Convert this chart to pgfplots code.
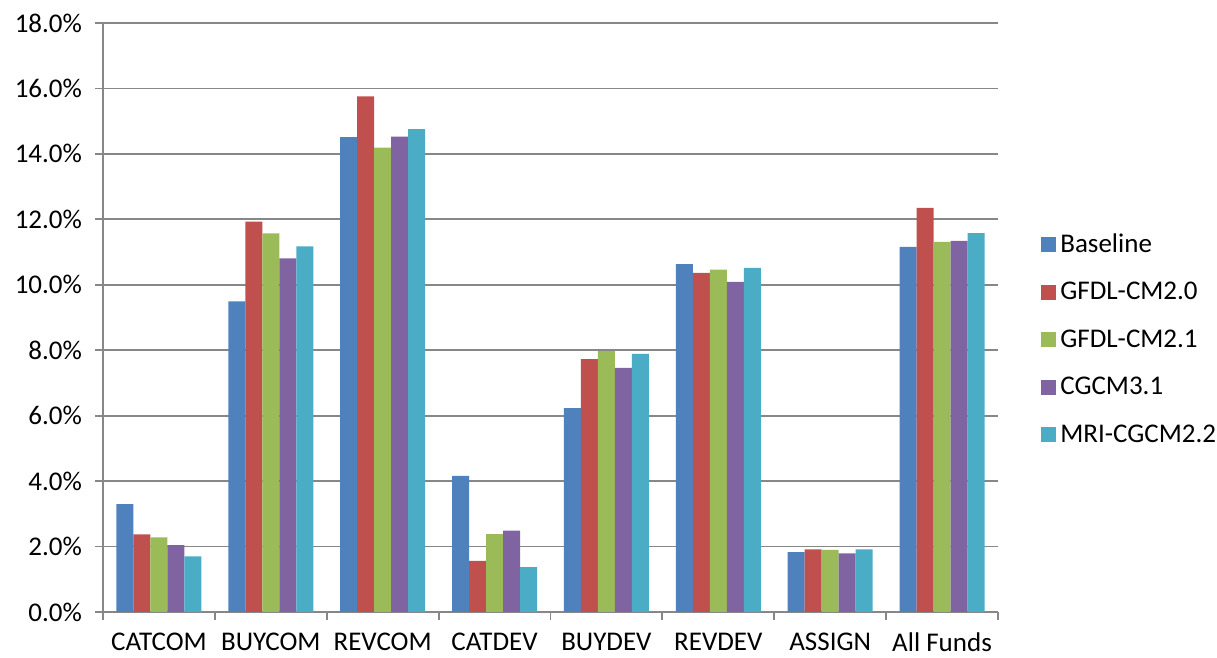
\documentclass[border=0pt]{standalone}
\usepackage{pgfplots}
\pgfplotsset{compat=1.18}
\usepackage{fontspec}
\setmainfont{Carlito}

\definecolor{cBase}{HTML}{4F81BD}
\definecolor{cGA}{HTML}{C0504D}
\definecolor{cGB}{HTML}{9BBB59}
\definecolor{cCG}{HTML}{8064A2}
\definecolor{cMRI}{HTML}{4BACC6}
\definecolor{axgray}{HTML}{878787}

\begin{document}
\begin{tikzpicture}
    % fixed page box: the axis sits with its south west corner at the origin
    \useasboundingbox (-51.5pt,-23pt) rectangle (557pt,306pt);
    \begin{axis}[
            scale only axis,
            width=447.5pt,
            height=294.5pt,
            ybar=0pt,
            bar width=8.5pt,
            xmin=-0.5, xmax=7.5,
            ymin=0, ymax=18,
            axis x line*=bottom,
            axis y line*=left,
            axis line style={axgray, line width=0.9pt},
            xtick={-0.5,0.5,...,7.5},
            x tick label as interval,
            xticklabels={CATCOM,BUYCOM,REVCOM,CATDEV,BUYDEV,REVDEV,ASSIGN,All Funds},
            ytick={0,2,...,18},
            yticklabels={0.0\%,2.0\%,4.0\%,6.0\%,8.0\%,10.0\%,12.0\%,14.0\%,16.0\%,18.0\%},
            tick style={axgray, line width=0.9pt},
            tick align=outside,
            major tick length=4pt,
            ymajorgrids,
            grid style={axgray, line width=0.9pt},
            tick label style={font=\fontsize{13.5}{15}\selectfont, black},
            xticklabel style={yshift=-3pt},
            yticklabel style={xshift=-3pt},
            legend style={draw=none, fill=none, at={(1.048,0.463)}, anchor=west,
                font=\fontsize{13.5}{15}\selectfont, inner sep=0pt,
                row sep=9.5pt},
            legend cell align=left,
            legend image code/.code={\fill[#1] (-4pt,-3.75pt) rectangle (3.5pt,3.75pt);},
            every axis plot/.append style={draw=none},
        ]
        \addplot[fill=cBase] coordinates {(0,3.30) (1,9.49) (2,14.51) (3,4.16) (4,6.23) (5,10.63) (6,1.83) (7,11.16)};
        \addplot[fill=cGA] coordinates {(0,2.37) (1,11.93) (2,15.76) (3,1.56) (4,7.73) (5,10.36) (6,1.91) (7,12.35)};
        \addplot[fill=cGB] coordinates {(0,2.28) (1,11.57) (2,14.19) (3,2.38) (4,7.97) (5,10.46) (6,1.90) (7,11.31)};
        \addplot[fill=cCG] coordinates {(0,2.04) (1,10.81) (2,14.53) (3,2.49) (4,7.46) (5,10.09) (6,1.79) (7,11.34)};
        \addplot[fill=cMRI] coordinates {(0,1.70) (1,11.17) (2,14.76) (3,1.37) (4,7.89) (5,10.52) (6,1.91) (7,11.58)};
        \legend{Baseline,GFDL-CM2.0,GFDL-CM2.1,CGCM3.1,MRI-CGCM2.2}
    \end{axis}
\end{tikzpicture}
\end{document}
